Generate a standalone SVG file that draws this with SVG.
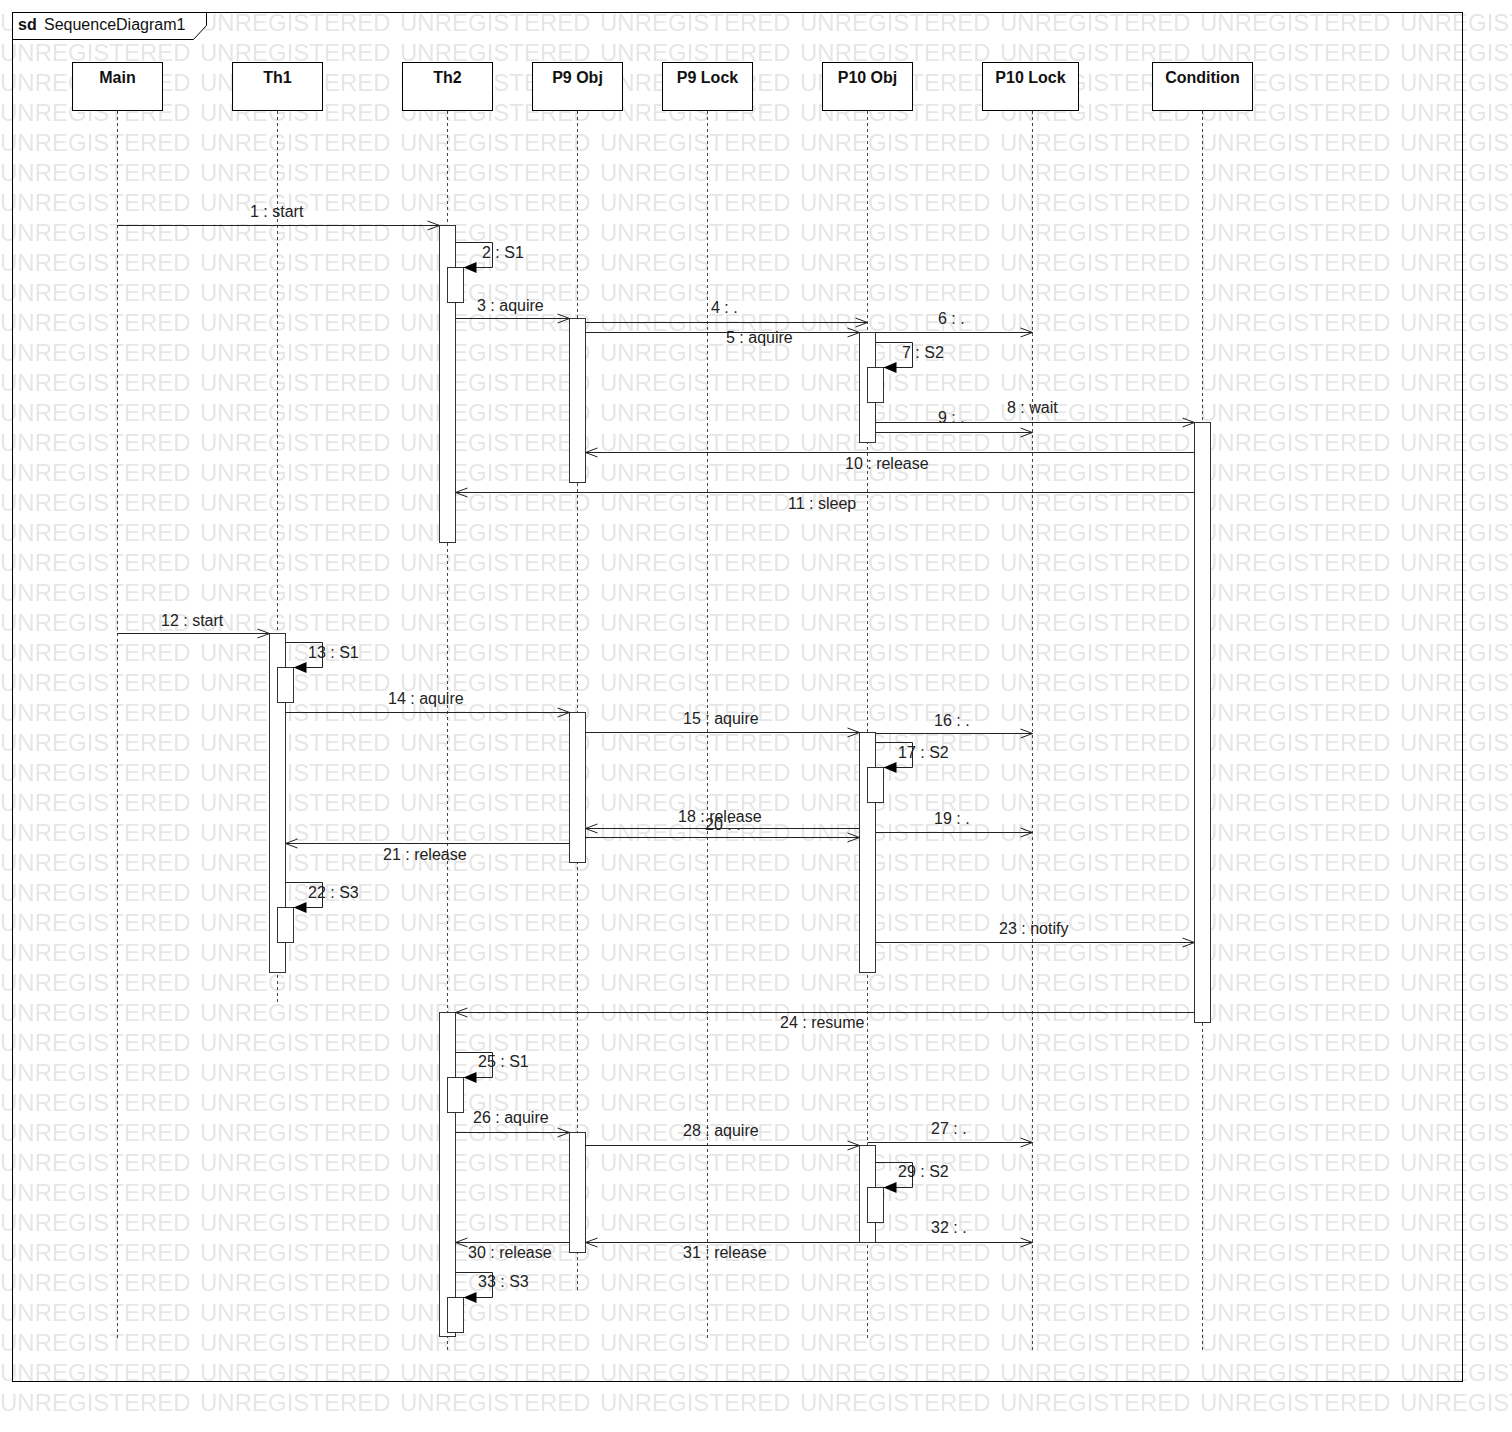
<svg xmlns="http://www.w3.org/2000/svg" width="1512" height="1432" viewBox="0 0 1512 1432">
  <style>
    .box { fill: #fff; stroke: #000; stroke-width: 1; }
    .name { font-family: "Liberation Sans", Arial, sans-serif; font-size: 16px; font-weight: bold; fill: #111; text-anchor: middle; }
    .life { stroke: #444; stroke-width: 1; stroke-dasharray: 3 3; fill: none; }
    .act { fill: #fff; stroke: #333; stroke-width: 1; }
    .msg { stroke: #222; stroke-width: 1; fill: none; marker-end: url(#open); }
    .self { stroke: #222; stroke-width: 1; fill: none; marker-end: url(#filled); }
    .lbl { font-family: "Liberation Sans", Arial, sans-serif; font-size: 16px; fill: #222; }
    .wm { font-family: "Liberation Sans", Arial, sans-serif; font-size: 24px; fill: #e6e6e6; }
  </style>
  <defs>
    <marker id="open" markerWidth="14" markerHeight="12" refX="13" refY="6" orient="auto" markerUnits="userSpaceOnUse" viewBox="0 0 14 12">
      <path d="M1,1.5 L13,6 L1,10.5" fill="none" stroke="#222" stroke-width="1"/>
    </marker>
    <marker id="filled" markerWidth="14" markerHeight="12" refX="13" refY="6" orient="auto" markerUnits="userSpaceOnUse" viewBox="0 0 14 12">
      <path d="M0,0.5 L13,6 L0,11.5 Z" fill="#000"/>
    </marker>
    <pattern id="wmTile" patternUnits="userSpaceOnUse" x="0" y="7" width="200" height="30">
      <text class="wm" x="0" y="24">UNREGISTERED</text>
    </pattern>
  </defs>

  <rect width="1512" height="1432" fill="#fff"/>
  <!-- background watermark rows -->
  <rect x="0" y="7" width="1512" height="1409" fill="url(#wmTile)"/>

  <!-- sequence frame -->
  <g id="frame">
    <rect x="12.5" y="12.5" width="1450" height="1369" fill="none" stroke="#000" stroke-width="1"/>
    <path d="M12.5,12.5 H206.5 V25.5 L193.5,39.5 H12.5 Z" fill="#fff" stroke="#000" stroke-width="1"/>
    <text x="18" y="30" font-family="Liberation Sans, Arial, sans-serif" font-size="16" font-weight="bold" fill="#111">sd</text>
    <text x="44" y="30" font-family="Liberation Sans, Arial, sans-serif" font-size="16" fill="#111">SequenceDiagram1</text>
  </g>

  <!-- lifelines -->
  <g id="main">
    <line class="life" x1="117.5" y1="111" x2="117.5" y2="1340"/>
    <rect class="box" x="72.5" y="62.5" width="90" height="48"/>
    <text class="name" x="117.5" y="83">Main</text>
  </g>
  <g id="th1">
    <line class="life" x1="277.5" y1="111" x2="277.5" y2="1005"/>
    <rect class="box" x="232.5" y="62.5" width="90" height="48"/>
    <text class="name" x="277.5" y="83">Th1</text>
    <rect class="act" x="269.5" y="633.5" width="16" height="339"/>
    <rect class="act" x="277.5" y="667.5" width="16" height="35"/>
    <rect class="act" x="277.5" y="907.5" width="16" height="35"/>
  </g>
  <g id="th2">
    <line class="life" x1="447.5" y1="111" x2="447.5" y2="1353"/>
    <rect class="box" x="402.5" y="62.5" width="90" height="48"/>
    <text class="name" x="447.5" y="83">Th2</text>
    <rect class="act" x="439.5" y="225.5" width="16" height="317"/>
    <rect class="act" x="447.5" y="267.5" width="16" height="35"/>
    <rect class="act" x="439.5" y="1012.5" width="16" height="324"/>
    <rect class="act" x="447.5" y="1077.5" width="16" height="35"/>
    <rect class="act" x="447.5" y="1297.5" width="16" height="35"/>
  </g>
  <g id="p9obj">
    <line class="life" x1="577.5" y1="111" x2="577.5" y2="1293"/>
    <rect class="box" x="532.5" y="62.5" width="90" height="48"/>
    <text class="name" x="577.5" y="83">P9 Obj</text>
    <rect class="act" x="569.5" y="318.5" width="16" height="164"/>
    <rect class="act" x="569.5" y="712.5" width="16" height="150"/>
    <rect class="act" x="569.5" y="1132.5" width="16" height="120"/>
  </g>
  <g id="p9lock">
    <line class="life" x1="707.5" y1="111" x2="707.5" y2="1340"/>
    <rect class="box" x="662.5" y="62.5" width="90" height="48"/>
    <text class="name" x="707.5" y="83">P9 Lock</text>
  </g>
  <g id="p10obj">
    <line class="life" x1="867.5" y1="111" x2="867.5" y2="1340"/>
    <rect class="box" x="822.5" y="62.5" width="90" height="48"/>
    <text class="name" x="867.5" y="83">P10 Obj</text>
    <rect class="act" x="859.5" y="332.5" width="16" height="110"/>
    <rect class="act" x="867.5" y="367.5" width="16" height="35"/>
    <rect class="act" x="859.5" y="732.5" width="16" height="240"/>
    <rect class="act" x="867.5" y="767.5" width="16" height="35"/>
    <rect class="act" x="859.5" y="1145.5" width="16" height="97"/>
    <rect class="act" x="867.5" y="1187.5" width="16" height="35"/>
  </g>
  <g id="p10lock">
    <line class="life" x1="1032.5" y1="111" x2="1032.5" y2="1353"/>
    <rect class="box" x="982.5" y="62.5" width="96" height="48"/>
    <text class="name" x="1030.5" y="83">P10 Lock</text>
  </g>
  <g id="condition">
    <line class="life" x1="1202.5" y1="111" x2="1202.5" y2="1353"/>
    <rect class="box" x="1152.5" y="62.5" width="100" height="48"/>
    <text class="name" x="1202.5" y="83">Condition</text>
    <rect class="act" x="1194.5" y="422.5" width="16" height="600"/>
  </g>

  <!-- messages -->
  <g id="messages">
    <line class="msg" x1="117.5" y1="225.5" x2="439.5" y2="225.5"/>
    <text class="lbl" x="250" y="217">1 : start</text>

    <polyline class="self" points="455.5,242.5 492.5,242.5 492.5,267.5 463.5,267.5"/>
    <text class="lbl" x="482" y="258">2 : S1</text>

    <line class="msg" x1="455.5" y1="318.5" x2="569.5" y2="318.5"/>
    <text class="lbl" x="477" y="311">3 : aquire</text>

    <line class="msg" x1="585.5" y1="322.5" x2="867.5" y2="322.5"/>
    <text class="lbl" x="711" y="313">4 : .</text>

    <line class="msg" x1="585.5" y1="332.5" x2="859.5" y2="332.5"/>
    <text class="lbl" x="726" y="343">5 : aquire</text>

    <line class="msg" x1="875.5" y1="332.5" x2="1032.5" y2="332.5"/>
    <text class="lbl" x="938" y="324">6 : .</text>

    <polyline class="self" points="875.5,342.5 912.5,342.5 912.5,367.5 883.5,367.5"/>
    <text class="lbl" x="902" y="358">7 : S2</text>

    <line class="msg" x1="875.5" y1="422.5" x2="1194.5" y2="422.5"/>
    <text class="lbl" x="1007" y="413">8 : wait</text>

    <line class="msg" x1="875.5" y1="432.5" x2="1032.5" y2="432.5"/>
    <text class="lbl" x="938" y="423">9 : .</text>

    <line class="msg" x1="1194.5" y1="452.5" x2="585.5" y2="452.5"/>
    <text class="lbl" x="845" y="469">10 : release</text>

    <line class="msg" x1="1194.5" y1="492.5" x2="455.5" y2="492.5"/>
    <text class="lbl" x="788" y="509">11 : sleep</text>

    <line class="msg" x1="117.5" y1="633.5" x2="269.5" y2="633.5"/>
    <text class="lbl" x="161" y="626">12 : start</text>

    <polyline class="self" points="285.5,642.5 322.5,642.5 322.5,667.5 293.5,667.5"/>
    <text class="lbl" x="308" y="658">13 : S1</text>

    <line class="msg" x1="285.5" y1="712.5" x2="569.5" y2="712.5"/>
    <text class="lbl" x="388" y="704">14 : aquire</text>

    <line class="msg" x1="585.5" y1="732.5" x2="859.5" y2="732.5"/>
    <text class="lbl" x="683" y="724">15 : aquire</text>

    <line class="msg" x1="875.5" y1="733.5" x2="1032.5" y2="733.5"/>
    <text class="lbl" x="934" y="726">16 : .</text>

    <polyline class="self" points="875.5,742.5 912.5,742.5 912.5,767.5 883.5,767.5"/>
    <text class="lbl" x="898" y="758">17 : S2</text>

    <line class="msg" x1="859.5" y1="828.5" x2="585.5" y2="828.5"/>
    <text class="lbl" x="705" y="830">20 : .</text>
    <text class="lbl" x="678" y="822">18 : release</text>

    <line class="msg" x1="875.5" y1="832.5" x2="1032.5" y2="832.5"/>
    <text class="lbl" x="934" y="824">19 : .</text>

    <line class="msg" x1="585.5" y1="837.5" x2="859.5" y2="837.5"/>

    <line class="msg" x1="569.5" y1="843.5" x2="285.5" y2="843.5"/>
    <text class="lbl" x="383" y="860">21 : release</text>

    <polyline class="self" points="285.5,882.5 322.5,882.5 322.5,907.5 293.5,907.5"/>
    <text class="lbl" x="308" y="898">22 : S3</text>

    <line class="msg" x1="875.5" y1="942.5" x2="1194.5" y2="942.5"/>
    <text class="lbl" x="999" y="934">23 : notify</text>

    <line class="msg" x1="1194.5" y1="1012.5" x2="455.5" y2="1012.5"/>
    <text class="lbl" x="780" y="1028">24 : resume</text>

    <polyline class="self" points="455.5,1052.5 492.5,1052.5 492.5,1077.5 463.5,1077.5"/>
    <text class="lbl" x="478" y="1067">25 : S1</text>

    <line class="msg" x1="455.5" y1="1132.5" x2="569.5" y2="1132.5"/>
    <text class="lbl" x="473" y="1123">26 : aquire</text>

    <line class="msg" x1="867.5" y1="1142.5" x2="1032.5" y2="1142.5"/>
    <text class="lbl" x="931" y="1134">27 : .</text>

    <line class="msg" x1="585.5" y1="1145.5" x2="859.5" y2="1145.5"/>
    <text class="lbl" x="683" y="1136">28 : aquire</text>

    <polyline class="self" points="875.5,1162.5 912.5,1162.5 912.5,1187.5 883.5,1187.5"/>
    <text class="lbl" x="898" y="1177">29 : S2</text>

    <line class="msg" x1="569.5" y1="1242.5" x2="455.5" y2="1242.5"/>
    <text class="lbl" x="468" y="1258">30 : release</text>

    <line class="msg" x1="859.5" y1="1242.5" x2="585.5" y2="1242.5"/>
    <text class="lbl" x="683" y="1258">31 : release</text>

    <line class="msg" x1="875.5" y1="1242.5" x2="1032.5" y2="1242.5"/>
    <text class="lbl" x="931" y="1233">32 : .</text>

    <polyline class="self" points="455.5,1272.5 492.5,1272.5 492.5,1297.5 463.5,1297.5"/>
    <text class="lbl" x="478" y="1287">33 : S3</text>
  </g>
</svg>
